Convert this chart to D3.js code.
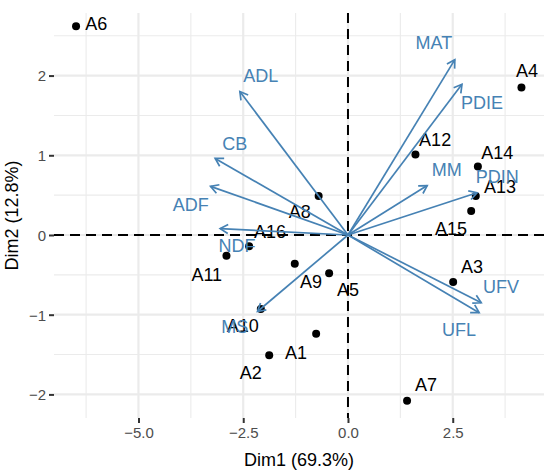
<!DOCTYPE html>
<html><head><meta charset="utf-8">
<script src="https://cdn.jsdelivr.net/npm/d3@7"></script>
<style>body{margin:0;background:#fff;} svg{display:block;}</style>
</head><body>
<svg id="c" width="544" height="470"></svg>
<script>
// ---- data ----
const indNames = ["A1","A2","A3","A4","A5","A6","A7","A8","A9","A10","A11","A12","A13","A14","A15","A16"];
const indX = [-0.76,-1.88,2.51,4.14,-0.45,-6.49,1.41,-0.70,-1.27,-2.08,-2.90,1.61,3.05,3.10,2.94,-2.36];
const indY = [-1.24,-1.51,-0.59,1.85,-0.48,2.62,-2.08,0.49,-0.36,-0.93,-0.26,1.01,0.49,0.86,0.30,-0.14];
// repelled label anchors (data units)
const indLabX = [-1.24,-2.32,2.96,4.27,0.00,-6.01,1.86,-1.15,-0.88,-2.51,-3.37,2.08,3.63,3.56,2.46,-1.86];
const indLabY = [-1.48,-1.72,-0.39,2.06,-0.68,2.65,-1.87,0.30,-0.58,-1.14,-0.49,1.20,0.61,1.03,0.08,0.04];

const varNames = ["ADL","CB","ADF","NDF","MS","MAT","PDIE","MM","PDIN","UFV","UFL"];
const varX = [-2.58,-3.17,-3.28,-3.05,-2.16,2.55,2.72,1.89,3.08,3.18,3.13];
const varY = [1.80,0.96,0.61,0.08,-0.96,2.20,1.89,0.62,0.53,-0.85,-0.975];
const varLabX = [-2.08,-2.70,-3.75,-2.65,-2.70,2.05,3.20,2.36,3.56,3.65,2.65];
const varLabY = [2.00,1.15,0.38,-0.13,-1.15,2.41,1.66,0.82,0.73,-0.65,-1.18];

const xTicks = [-5.0,-2.5,0.0,2.5];
const yTicks = [-2,-1,0,1,2];
const xMinor = [-6.25,-3.75,-1.25,1.25,3.75];
const yMinor = [-1.5,-0.5,0.5,1.5,2.5];
const xTitle = "Dim1 (69.3%)";
const yTitle = "Dim2 (12.8%)";

// ---- layout ----
const svg = d3.select("#c");
const L = 54, R = 544, T = 13, B = 418;
const x = d3.scaleLinear().domain([-7.016, 4.678]).range([L, R]);
const y = d3.scaleLinear().domain([-2.296, 2.785]).range([B, T]);
const blue = "#4682B4";
const FONT = "Liberation Sans, Arial, sans-serif";

const g = svg.append("g");
// minor grid
g.selectAll(".vx").data(xMinor).join("line")
  .attr("x1", d=>x(d)).attr("x2", d=>x(d)).attr("y1", T).attr("y2", B)
  .attr("stroke", "#EBEBEB").attr("stroke-width", 1.1);
g.selectAll(".hy").data(yMinor).join("line")
  .attr("y1", d=>y(d)).attr("y2", d=>y(d)).attr("x1", L).attr("x2", R)
  .attr("stroke", "#EBEBEB").attr("stroke-width", 1.1);
// major grid
g.selectAll(".vX").data(xTicks).join("line")
  .attr("x1", d=>x(d)).attr("x2", d=>x(d)).attr("y1", T).attr("y2", B)
  .attr("stroke", "#EBEBEB").attr("stroke-width", 2.2);
g.selectAll(".hY").data(yTicks).join("line")
  .attr("y1", d=>y(d)).attr("y2", d=>y(d)).attr("x1", L).attr("x2", R)
  .attr("stroke", "#EBEBEB").attr("stroke-width", 2.2);

// axes
const fmtX = d => (d<0?"\u2212":"") + Math.abs(d).toFixed(1);
const fmtY = d => (d<0?"\u2212":"") + Math.abs(d);
const xAxis = svg.append("g").attr("transform", `translate(0,${B})`)
  .call(d3.axisBottom(x).tickValues(xTicks).tickFormat(fmtX).tickSize(5).tickPadding(4));
const yAxis = svg.append("g").attr("transform", `translate(${L},0)`)
  .call(d3.axisLeft(y).tickValues(yTicks).tickFormat(fmtY).tickSize(5).tickPadding(3));
[xAxis, yAxis].forEach(a => {
  a.select(".domain").remove();
  a.selectAll(".tick line").attr("stroke", "#333").attr("stroke-width", 2);
  a.selectAll(".tick text").attr("fill", "#4D4D4D")
    .style("font-family", FONT).style("font-size", "15px");
});
yAxis.selectAll(".tick text").attr("dy", "0.36em");

svg.append("text").attr("x", (L+R)/2).attr("y", 466).attr("text-anchor", "middle")
  .style("font-family", FONT).style("font-size", "18px").text(xTitle);
svg.append("text").attr("transform", `translate(18,${(T+B)/2}) rotate(-90)`).attr("text-anchor", "middle")
  .style("font-family", FONT).style("font-size", "18px").text(yTitle);

// reference dashed lines
g.append("line").attr("x1", L).attr("x2", R).attr("y1", y(0)).attr("y2", y(0))
  .attr("stroke", "#000").attr("stroke-width", 2).attr("stroke-dasharray", "10,6");
g.append("line").attr("x1", x(0)).attr("x2", x(0)).attr("y1", T).attr("y2", B)
  .attr("stroke", "#000").attr("stroke-width", 2).attr("stroke-dasharray", "10,6");

// individuals
const ind = indNames.map((n,i)=>({n, x:indX[i], y:indY[i], lx:indLabX[i], ly:indLabY[i]}));
g.selectAll(".pt").data(ind).join("circle")
  .attr("cx", d=>x(d.x)).attr("cy", d=>y(d.y)).attr("r", 4).attr("fill", "#000");
g.selectAll(".pl").data(ind).join("text")
  .attr("x", d=>x(d.lx)).attr("y", d=>y(d.ly)).attr("text-anchor", "middle").attr("dy", "0.36em")
  .style("font-family", FONT).style("font-size", "18px")
  .attr("fill", "#000").text(d=>d.n);

// variables
const vars = varNames.map((n,i)=>({n, x:varX[i], y:varY[i], lx:varLabX[i], ly:varLabY[i]}));
const ax = g.selectAll(".ar").data(vars).join("g");
ax.append("line").attr("x1", x(0)).attr("y1", y(0)).attr("x2", d=>x(d.x)).attr("y2", d=>y(d.y))
  .attr("stroke", blue).attr("stroke-width", 1.7);
ax.append("path").attr("fill", "none").attr("stroke", blue).attr("stroke-width", 1.7)
  .attr("stroke-linejoin", "miter")
  .attr("d", d => {
    const x2 = x(d.x), y2 = y(d.y);
    const a = Math.atan2(y2 - y(0), x2 - x(0));
    const len = 9, sp = Math.PI/6;
    const p1 = [x2 - len*Math.cos(a - sp), y2 - len*Math.sin(a - sp)];
    const p2 = [x2 - len*Math.cos(a + sp), y2 - len*Math.sin(a + sp)];
    return `M${p1[0]},${p1[1]}L${x2},${y2}L${p2[0]},${p2[1]}`;
  });
g.selectAll(".vl").data(vars).join("text")
  .attr("x", d=>x(d.lx)).attr("y", d=>y(d.ly)).attr("text-anchor", "middle").attr("dy", "0.36em")
  .style("font-family", FONT).style("font-size", "18px")
  .attr("fill", blue).text(d=>d.n);
</script>
</body></html>
